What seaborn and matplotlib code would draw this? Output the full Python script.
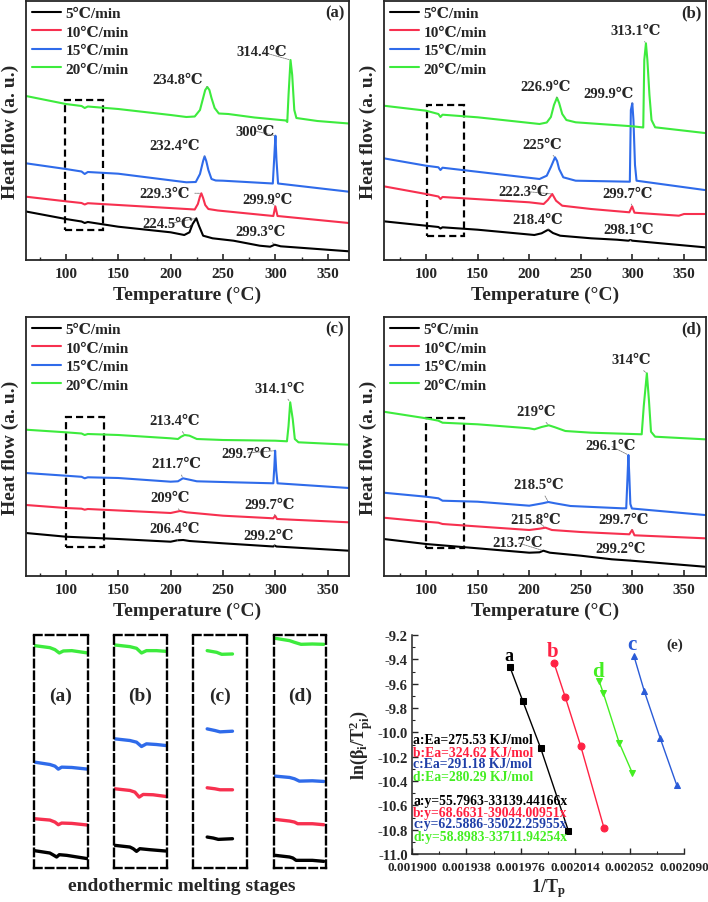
import matplotlib
matplotlib.use('Agg')
import matplotlib.pyplot as plt
import seaborn as sns
from matplotlib.patches import Rectangle
from matplotlib.ticker import MultipleLocator, FixedLocator, FormatStrFormatter

# ---------------- data ----------------
rates = ['5℃/min', '10℃/min', '15℃/min', '20℃/min']

# panel (a)
T_a5 = [62, 100, 115, 118, 121, 150, 200, 213, 218, 221, 224.5, 227, 231, 240, 260, 285, 295, 299.3, 305, 370]
HF_a5 = [48.5, 41, 38.5, 37, 38, 33.3, 27.7, 25, 27.7, 36, 41.7, 34.3, 24.3, 21.7, 19.3, 14.3, 13.3, 15.3, 13.7, 8.7]
T_a10 = [62, 100, 115, 118, 121, 215, 223, 226, 228, 229.3, 231, 233, 236, 245, 298, 299.9, 302, 370]
HF_a10 = [63.3, 58.7, 57, 55.5, 56.8, 51, 50.5, 56, 63.5, 66.7, 62, 55, 51, 49.5, 44, 53.7, 44, 37]
T_a15 = [62, 100, 115, 118, 121, 150, 215, 224, 228, 231, 232.4, 234, 236, 239, 243, 250, 297.5, 299, 300, 301, 302.5, 370]
HF_a15 = [96.7, 91, 88.5, 86, 88, 86.3, 77.7, 78, 86, 99, 103.7, 99, 90, 81, 79.5, 79.3, 76.5, 105, 124.3, 100, 76.5, 68.3]
T_a20 = [62, 100, 115, 118, 121, 150, 200, 215, 223, 228, 231, 233, 235, 237, 239, 242, 246, 255, 280, 310, 311.3, 312.5, 314.4, 316, 318, 320, 340, 370]
HF_a20 = [164, 156, 154, 152, 153.5, 151, 145, 143, 143.5, 150, 162, 170, 173, 170, 162, 152, 146.5, 146, 142.5, 139.5, 138, 165, 200, 185, 150, 142, 139, 136.5]

# panel (b)
T_b5 = [59, 100, 112, 114, 116, 150, 205, 212, 218.4, 223, 230, 260, 285, 296, 298, 300, 370]
HF_b5 = [38.7, 34.3, 33, 31.5, 32.7, 30.3, 25, 26.7, 30.3, 27, 24.3, 21.7, 20.3, 19.3, 20, 19.3, 12.7]
T_b10 = [59, 100, 112, 114, 116, 200, 214, 218, 222.3, 226, 232, 260, 297, 299.7, 302, 345, 350, 370]
HF_b10 = [73.7, 66, 63.5, 61, 63, 57.7, 56, 60, 66, 59.3, 54.3, 51, 47.7, 53.7, 47.3, 44.3, 46, 46]
T_b15 = [59, 100, 112, 114, 116, 210, 217, 221, 225, 227, 229, 233, 245, 297.5, 298.5, 299.9, 301, 302.5, 304, 370]
HF_b15 = [101.7, 94.3, 92.7, 90, 92.3, 81, 84.3, 93, 102.7, 99, 91, 82.7, 79.3, 78.3, 150, 156.7, 140, 95, 79.3, 70]
T_b20 = [59, 100, 112, 114, 116, 150, 210, 217, 221, 224, 226.9, 229, 232, 236, 245, 300, 309, 310.5, 311.5, 313.1, 314.5, 316.5, 318.5, 322, 370]
HF_b20 = [154.3, 149.3, 146, 143, 145.3, 142.7, 136, 137.5, 143, 155, 162.3, 157, 146, 140, 137.7, 133.7, 132.7, 132.5, 200, 216.7, 200, 165, 140, 132.7, 127]

# panel (c)
T_c5 = [62, 100, 150, 200, 206.4, 212, 218, 250, 298, 299.2, 301, 370]
HF_c5 = [43, 39.3, 37, 34.3, 35.7, 36, 35, 32.7, 29.5, 30.5, 29.5, 25.3]
T_c10 = [62, 100, 115, 118, 121, 200, 209, 215, 250, 298, 299.7, 301.5, 370]
HF_c10 = [71, 68, 67.3, 66.3, 67, 63, 65, 63.7, 60.3, 57.7, 60.3, 57, 53.7]
T_c15 = [62, 100, 115, 118, 121, 150, 200, 207, 211.7, 218, 225, 260, 298, 299, 299.7, 300.8, 302, 370]
HF_c15 = [103, 100.3, 99.2, 97.7, 98.7, 98, 94.3, 94.7, 97.7, 96.3, 94.7, 93.7, 92.7, 110, 125.3, 105, 92.7, 88]
T_c20 = [62, 100, 115, 118, 121, 150, 200, 207, 210, 213.4, 218, 225, 250, 300, 311, 312.5, 314.1, 316.5, 318.5, 322, 370]
HF_c20 = [146.3, 143.7, 142.5, 141, 142, 141, 137.7, 137, 139.3, 141, 140.3, 137, 136, 135.3, 134.7, 150, 173.7, 157, 137, 133.7, 131.3]

# panel (d)
T_d5 = [59, 100, 150, 200, 210, 213.7, 220, 250, 280, 299.2, 370]
HF_d5 = [37, 32, 27.7, 23.3, 23.7, 25.3, 23.3, 20.3, 16.7, 15.3, 9.3]
T_d10 = [59, 100, 112, 116, 200, 210, 215.8, 222, 250, 297, 299.7, 302, 370]
HF_d10 = [58.3, 54.3, 53.3, 52, 46, 47.3, 48.3, 46, 44, 41.7, 46, 40.7, 37.7]
T_d15 = [59, 100, 112, 116, 150, 200, 213, 218.5, 225, 240, 290, 294, 295.3, 296.1, 297, 298, 299.5, 370]
HF_d15 = [83.3, 79.3, 77.7, 75.3, 74.3, 70.3, 72.7, 74, 72.7, 70, 67.7, 67.7, 100, 121, 100, 72, 67.5, 61]
T_d20 = [59, 100, 112, 116, 150, 200, 205, 212, 219, 225, 235, 260, 300, 309, 311, 314, 316, 318, 322, 370]
HF_d20 = [164.3, 157.7, 155.3, 153.3, 151.7, 147.7, 146.7, 149, 150.7, 148.7, 145, 143.3, 142, 141.7, 170, 202.7, 176, 144.3, 139.3, 136.7]

# peak labels
lab_a = ['314.4℃', '234.8℃', '300℃', '232.4℃', '229.3℃', '299.9℃', '224.5℃', '299.3℃']
peak_a = [(314.4, 200), (235, 173), (300, 124.3), (232.4, 103.7), (229.3, 66.7), (299.9, 53.7), (224.5, 41.7), (299.3, 15.3)]
txt_a = [(287.2, 208), (207, 180), (280.5, 129), (204.2, 114), (194.6, 67), (292.9, 61), (197.5, 36), (285.3, 28)]
lab_b = ['313.1℃', '226.9℃', '299.9℃', '225℃', '222.3℃', '299.7℃', '218.4℃', '298.1℃']
peak_b = [(313.1, 216.7), (226.9, 162.3), (299.9, 156.7), (225, 102.7), (222.3, 66), (299.7, 53.7), (218.4, 30.3), (298.1, 19.3)]
txt_b = [(303.2, 229.3), (216, 173.7), (277.3, 166.7), (212.7, 115.3), (195, 68.7), (295, 67), (207.8, 40.3), (296.7, 31)]
lab_c = ['314.1℃', '213.4℃', '299.7℃', '211.7℃', '209℃', '299.7℃', '206.4℃', '299.2℃']
peak_c = [(314.1, 173.7), (213.4, 141), (299.7, 125.3), (211.7, 97.7), (209, 65), (299.7, 60.3), (206.4, 35.7), (299.2, 29.7)]
txt_c = [(304.4, 187.7), (204.2, 155.3), (272.6, 123), (205.8, 112), (199.4, 78), (294.8, 71.3), (204.2, 47.7), (293.2, 40.3)]
lab_d = ['314℃', '219℃', '296.1℃', '218.5℃', '215.8℃', '299.7℃', '213.7℃', '299.2℃']
peak_d = [(314, 202.7), (219, 150.7), (296.1, 121), (218.5, 74), (215.8, 48.3), (299.7, 46), (213.7, 25.3), (299.2, 15.3)]
txt_d = [(298.4, 216), (206.3, 164.3), (279, 130), (209.5, 91), (206.3, 56), (291.9, 56), (188.5, 33.3), (288.7, 27.7)]

# dashed boxes marking the melting stage (T0, T1, hf0, hf1)
box_a = (99, 135, 30, 160.3)
box_b = (101, 137, 23.7, 155)
box_c = (100, 136, 29.3, 159.3)
box_d = (100, 137, 27.7, 158.3)

# magnified melting-stage segments (relative x, magnified heat flow), order 5,10,15,20
zx_a = [[2, 47, 59, 67, 75, 97, 159], [2, 47, 62, 72, 82, 112, 159], [2, 47, 62, 72, 82, 112, 159], [2, 47, 62, 75, 87, 112, 159]]
zy_a = [[52, 45, 38, 33, 40, 38, 28], [148, 144, 138, 130, 135, 134, 129], [318, 311, 306, 297, 303, 302, 297], [668, 662, 656, 646, 652, 653, 646]]
zx_b = [[3, 48, 58, 68, 78, 108, 156], [3, 48, 63, 76, 88, 118, 156], [3, 48, 68, 83, 98, 128, 156], [3, 48, 68, 83, 98, 128, 156]]
zy_b = [[68, 63, 58, 50, 58, 55, 51], [238, 233, 228, 213, 221, 220, 215], [388, 383, 378, 365, 373, 371, 368], [670, 665, 660, 646, 653, 653, 651]]
zx_c = [[42, 60, 75, 117], [42, 65, 80, 117], [42, 65, 80, 117], [42, 70, 85, 117]]
zy_c = [[93, 90, 86, 88], [241, 238, 235, 235], [418, 413, 409, 411], [653, 648, 642, 643]]
zx_d = [[4, 48, 58, 68, 118, 153], [4, 48, 63, 73, 118, 153], [4, 48, 63, 78, 118, 153], [4, 48, 63, 83, 118, 153]]
zy_d = [[38, 33, 30, 23, 23, 20], [146, 141, 138, 133, 133, 130], [276, 272, 268, 261, 262, 260], [690, 683, 678, 672, 673, 672]]

# panel (e) Kissinger plot
e_x_a = [0.0019685, 0.0019773, 0.0019899, 0.0020092]
e_y_a = [-9.466, -9.740, -10.131, -10.808]
e_x_b = [0.0019992, 0.0020071, 0.0020178, 0.0020341]
e_y_b = [-9.430, -9.712, -10.110, -10.786]
e_x_c = [0.0020551, 0.0020623, 0.0020734, 0.0020849]
e_y_c = [-9.375, -9.663, -10.049, -10.433]
e_x_d = [0.0020308, 0.0020336, 0.0020448, 0.0020539]
e_y_d = [-9.581, -9.677, -10.088, -10.334]
ea_text = ['a:Ea=275.53 KJ/mol', 'b:Ea=324.62 KJ/mol', 'c:Ea=291.18 KJ/mol', 'd:Ea=280.29 KJ/mol']
eq_text = ['a:y=55.7963-33139.44166x', 'b:y=68.6631-39044.00951x', 'c:y=62.5886-35022.25955x', 'd:y=58.8983-33711.94254x']
e_xticks = [0.001900, 0.001938, 0.001976, 0.002014, 0.002052, 0.002090]

# ---------------- style ----------------
SERIF = ['Liberation Serif', 'DejaVu Serif', 'DejaVu Sans', 'Noto Sans CJK SC']
sns.set_style('ticks')
plt.rcParams['font.family'] = SERIF
plt.rcParams['font.weight'] = 'bold'
plt.rcParams['axes.labelweight'] = 'bold'
plt.rcParams['axes.unicode_minus'] = False
plt.rcParams['mathtext.fontset'] = 'custom'
plt.rcParams['mathtext.rm'] = 'Liberation Serif:bold'
plt.rcParams['mathtext.it'] = 'Liberation Serif:bold'
plt.rcParams['mathtext.bf'] = 'Liberation Serif:bold'

COLORS = ['#000000', '#F7304F', '#2F6BEA', '#3DEB3D']
W, H = 708, 903
fig = plt.figure(figsize=(7.08, 9.03), dpi=100)


def px_axes(l, t, r, b):
    return fig.add_axes([l / W, 1 - b / H, (r - l) / W, (b - t) / H])


def dsc_panel(rect, xlim, Ts, HFs, labs, peaks, txts, box, tag):
    ax = px_axes(*rect)
    for i in range(4):
        sns.lineplot(x=Ts[i], y=HFs[i], ax=ax, color=COLORS[i], lw=1.5,
                     sort=False, estimator=None, label=rates[i])
    for lab, pk, tx in zip(labs, peaks, txts):
        ax.annotate(lab, xy=pk, xytext=tx, ha='center', va='center',
                    fontsize=10.5, fontweight='bold',
                    arrowprops=dict(arrowstyle='-', color='#808080', lw=0.6,
                                    linestyle=(0, (2, 1)), shrinkA=1, shrinkB=1))
    ax.add_patch(Rectangle((box[0], box[2]), box[1] - box[0], box[3] - box[2],
                           fill=False, ec='black', lw=1.6, ls=(0, (3.2, 1.8))))
    ax.set_xlim(*xlim)
    ax.set_ylim(0, 259)
    ax.set_yticks([])
    ax.xaxis.set_major_locator(MultipleLocator(50))
    ax.xaxis.set_minor_locator(MultipleLocator(25))
    ax.tick_params(axis='x', which='major', direction='in', length=4, width=1.2,
                   labelsize=11, pad=5)
    ax.tick_params(axis='x', which='minor', direction='in', length=2.5, width=1.0)
    for s in ax.spines.values():
        s.set_linewidth(1.3)
    ax.set_xlabel('Temperature (°C)', fontsize=14, labelpad=4)
    ax.set_ylabel('Heat flow (a. u.)', fontsize=14, labelpad=5)
    ax.text(0.985, 0.955, tag, transform=ax.transAxes, ha='right', va='center',
            fontsize=12, fontweight='bold')
    ax.legend(loc='upper left', bbox_to_anchor=(0.02, 0.978), borderaxespad=0,
              borderpad=0, frameon=False, handlelength=1.9, handletextpad=0.25,
              labelspacing=0.31, prop={'family': SERIF, 'weight': 'bold', 'size': 11})
    return ax


dsc_panel((26, 2, 349, 261), (62, 370.2), [T_a5, T_a10, T_a15, T_a20],
          [HF_a5, HF_a10, HF_a15, HF_a20], lab_a, peak_a, txt_a, box_a, '(a)')
dsc_panel((384, 2, 706, 261), (59.3, 371.3), [T_b5, T_b10, T_b15, T_b20],
          [HF_b5, HF_b10, HF_b15, HF_b20], lab_b, peak_b, txt_b, box_b, '(b)')
dsc_panel((26, 318, 349, 577), (62, 370.2), [T_c5, T_c10, T_c15, T_c20],
          [HF_c5, HF_c10, HF_c15, HF_c20], lab_c, peak_c, txt_c, box_c, '(c)')
dsc_panel((384, 318, 706, 577), (59.3, 371.3), [T_d5, T_d10, T_d15, T_d20],
          [HF_d5, HF_d10, HF_d15, HF_d20], lab_d, peak_d, txt_d, box_d, '(d)')

# ---------------- magnified melting stages ----------------
zoom_sets = [(34, 88, zx_a, zy_a, '(a)'), (114, 167, zx_b, zy_b, '(b)'),
             (193, 247, zx_c, zy_c, '(c)'), (274, 326, zx_d, zy_d, '(d)')]
for l, r, zxs, zys, tag in zoom_sets:
    ax = px_axes(l, 636, r, 869)
    for i in range(4):
        sns.lineplot(x=zxs[i], y=zys[i], ax=ax, color=COLORS[i], lw=2.4,
                     sort=False, estimator=None)
    ax.set_xlim(0, 160)
    ax.set_ylim(0, 700)
    ax.set_xticks([])
    ax.set_yticks([])
    for s in ax.spines.values():
        s.set_linestyle((0, (3.2, 1.8)))
        s.set_linewidth(1.7)
        s.set_color('black')
    ax.set_facecolor('none')
    ax.text(0.5, 518 / 700, tag, transform=ax.transAxes, ha='center', va='center',
            fontsize=14, fontweight='bold')
fig.text(182 / W, 1 - 887 / H, 'endothermic melting stages', ha='center', va='center',
         fontsize=14, fontweight='bold')

# ---------------- panel (e) ----------------
ax = px_axes(412, 636, 684, 855)
e_sets = [(e_x_a, e_y_a, '#000000', 's', 'a', 13, (-0.7, 8.4)),
          (e_x_b, e_y_b, '#FF2244', 'o', 'b', 15, (-0.7, 8.8)),
          (e_x_c, e_y_c, '#2A5BD7', '^', 'c', 15, (-1.9, 9.2)),
          (e_x_d, e_y_d, '#44EE22', 'v', 'd', 15, (-0.7, 7.6))]
for xs, ys, col, mk, let, fs, off in e_sets:
    sns.lineplot(x=xs, y=ys, ax=ax, color=col, lw=1.0, marker=mk, markersize=5,
                 markeredgecolor=col, sort=False, estimator=None)
    ax.annotate(let, xy=(xs[0], ys[0]), xytext=off, textcoords='offset points',
                ha='center', va='center', color=col, fontsize=fs, fontweight='bold')
ax.set_xlim(0.0019, 0.00209)
ax.set_ylim(-11.0, -9.2)
ax.xaxis.set_major_locator(FixedLocator(e_xticks))
ax.xaxis.set_major_formatter(FormatStrFormatter('%.6f'))
ax.xaxis.set_minor_locator(MultipleLocator(0.000019))
ax.yaxis.set_major_locator(MultipleLocator(0.2))
ax.yaxis.set_minor_locator(MultipleLocator(0.1))
ax.yaxis.set_major_formatter(FormatStrFormatter('%.1f'))
ax.tick_params(which='major', direction='in', length=4, width=1.0)
ax.tick_params(which='minor', direction='in', length=2, width=0.8)
ax.tick_params(axis='y', labelsize=10.5, pad=3)
ax.tick_params(axis='x', labelsize=9.5, pad=5)
ax.spines['top'].set_visible(False)
ax.spines['right'].set_visible(False)
for s in ['left', 'bottom']:
    ax.spines[s].set_linewidth(1.1)
ax.set_xlabel(r'1/T$_\mathregular{p}$', fontsize=13, labelpad=2)
ax.set_ylabel(r'ln($\mathregular{\beta_i}$/T$\mathregular{^2_{pi}}$)', fontsize=13, labelpad=2)
ax.text(0.966, 0.959, '(e)', transform=ax.transAxes, ha='center', va='center',
        fontsize=11, fontweight='bold')
text_cols = ['#000000', '#FF1F3F', '#1F3FA8', '#44EE22']
ea_y = [0.525, 0.464, 0.411, 0.353]
eq_y = [0.244, 0.191, 0.137, 0.082]
for t, c, yy in zip(ea_text, text_cols, ea_y):
    ax.text(0.005, yy, t, transform=ax.transAxes, color=c, fontsize=9.8,
            fontweight='bold', ha='left', va='center')
for t, c, yy in zip(eq_text, text_cols, eq_y):
    ax.text(0.005, yy, t, transform=ax.transAxes, color=c, fontsize=9.8,
            fontweight='bold', ha='left', va='center')

fig.savefig('out.png', dpi=100)
